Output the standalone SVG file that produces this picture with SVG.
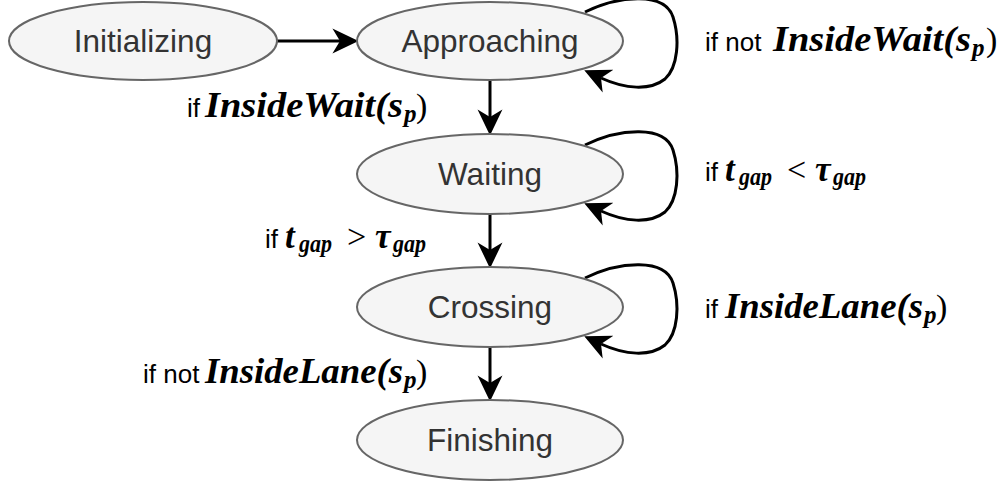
<svg xmlns="http://www.w3.org/2000/svg" width="1000" height="484" viewBox="0 0 1000 484">
  <style>
    .state ellipse { fill: #f5f5f5; stroke: #666666; stroke-width: 2; }
    .state text { font-family: "Liberation Sans", Arial, sans-serif; font-size: 31.5px; fill: #333333; text-anchor: middle; }
    .edge { fill: none; stroke: #000000; stroke-width: 3; }
    .lbl { font-family: "Liberation Sans", Arial, sans-serif; font-size: 26px; fill: #000000; }
    .m { font-family: "Liberation Serif", "Times New Roman", serif; font-style: italic; font-weight: bold; font-size: 35px; fill: #000000; }
    .s { font-family: "Liberation Serif", "Times New Roman", serif; font-style: italic; font-weight: bold; font-size: 25px; fill: #000000; }
    .mr { font-family: "Liberation Serif", "Times New Roman", serif; font-size: 34px; fill: #000000; }
  </style>
  <defs>
    <marker id="arrow" markerUnits="userSpaceOnUse" markerWidth="26" markerHeight="26" viewBox="0 0 24 24" refX="7" refY="12" orient="auto">
      <path d="M0,0.5 L24,12 L0,23.5 L7,12 Z" fill="#000000"/>
    </marker>
  </defs>

  <!-- transitions -->
  <g id="connectors">
    <path class="edge" d="M277,41 L340,41" marker-end="url(#arrow)"/>
    <path class="edge" d="M490,81 L490,117" marker-end="url(#arrow)"/>
    <path class="edge" d="M490,214 L490,250" marker-end="url(#arrow)"/>
    <path class="edge" d="M490,347 L490,383" marker-end="url(#arrow)"/>
    <!-- self loops -->
    <path class="edge" d="M585,12 C620,-5 665,-8 673,17 C680,39 678,67 665,79 C650,91 625,89 601,78" marker-end="url(#arrow)"/>
    <path class="edge" d="M585,145 C620,128 665,125 673,150 C680,172 678,200 665,212 C650,224 625,222 601,211" marker-end="url(#arrow)"/>
    <path class="edge" d="M585,278 C620,261 665,258 673,283 C680,305 678,333 665,345 C650,357 625,355 601,344" marker-end="url(#arrow)"/>
  </g>

  <!-- states -->
  <g id="initializing" class="state">
    <ellipse cx="143" cy="41" rx="134" ry="39"/>
    <text x="143" y="52">Initializing</text>
  </g>
  <g id="approaching" class="state">
    <ellipse cx="490" cy="41" rx="133" ry="39"/>
    <text x="490" y="52">Approaching</text>
  </g>
  <g id="waiting" class="state">
    <ellipse cx="490" cy="174" rx="133" ry="40"/>
    <text x="490" y="185">Waiting</text>
  </g>
  <g id="crossing" class="state">
    <ellipse cx="490" cy="307" rx="133" ry="40"/>
    <text x="490" y="318">Crossing</text>
  </g>
  <g id="finishing" class="state">
    <ellipse cx="490" cy="440" rx="133" ry="40"/>
    <text x="490" y="451">Finishing</text>
  </g>

  <!-- transition conditions -->
  <g id="label-approach-loop">
    <text class="lbl" x="705" y="51">if not</text>
    <text class="m" x="773" y="51" textLength="198" lengthAdjust="spacingAndGlyphs">InsideWait(s</text>
    <text class="s" x="972" y="56">p</text>
    <text class="mr" x="986" y="51">)</text>
  </g>
  <g id="label-approach-wait">
    <text class="lbl" x="187" y="117">if</text>
    <text class="m" x="205" y="117" textLength="198" lengthAdjust="spacingAndGlyphs">InsideWait(s</text>
    <text class="s" x="404" y="122">p</text>
    <text class="mr" x="416" y="117">)</text>
  </g>
  <g id="label-wait-loop">
    <text class="lbl" x="705" y="181">if</text>
    <text class="m" x="725" y="181">t</text>
    <text class="s" x="739" y="185" textLength="33" lengthAdjust="spacingAndGlyphs">gap</text>
    <text class="mr" x="787" y="181">&lt;</text>
    <text class="m" x="815" y="181">τ</text>
    <text class="s" x="833" y="185" textLength="33" lengthAdjust="spacingAndGlyphs">gap</text>
  </g>
  <g id="label-wait-cross">
    <text class="lbl" x="265" y="248">if</text>
    <text class="m" x="285" y="248">t</text>
    <text class="s" x="299" y="252" textLength="33" lengthAdjust="spacingAndGlyphs">gap</text>
    <text class="mr" x="347" y="248">&gt;</text>
    <text class="m" x="375" y="248">τ</text>
    <text class="s" x="393" y="252" textLength="33" lengthAdjust="spacingAndGlyphs">gap</text>
  </g>
  <g id="label-cross-loop">
    <text class="lbl" x="705" y="318">if</text>
    <text class="m" x="725" y="318" textLength="198" lengthAdjust="spacingAndGlyphs">InsideLane(s</text>
    <text class="s" x="924" y="323">p</text>
    <text class="mr" x="936" y="318">)</text>
  </g>
  <g id="label-cross-finish">
    <text class="lbl" x="143" y="383">if not</text>
    <text class="m" x="205" y="383" textLength="198" lengthAdjust="spacingAndGlyphs">InsideLane(s</text>
    <text class="s" x="404" y="388">p</text>
    <text class="mr" x="416" y="383">)</text>
  </g>
</svg>
